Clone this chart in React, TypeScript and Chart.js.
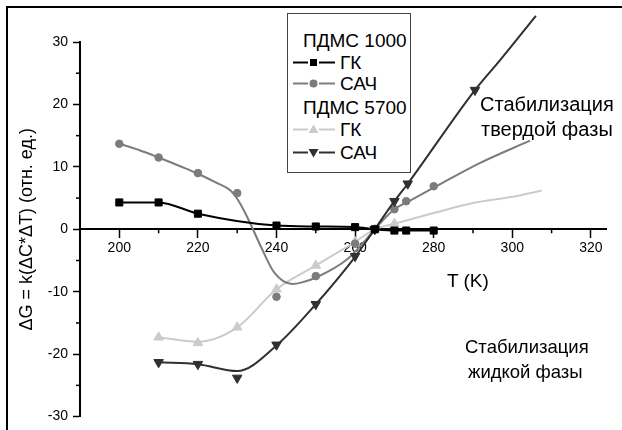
import React, { useEffect, useRef } from "react";
import { Chart, registerables } from "chart.js";

Chart.register(...registerables);

// ---- data ----
// ПДМС 1000, ГК (black squares)
const T_GK1000 = [200, 210, 220, 240, 250, 260, 265, 270, 273, 280];
const V_GK1000 = [4.3, 4.3, 2.5, 0.6, 0.45, 0.35, 0.0, -0.2, -0.2, -0.2];

// ПДМС 1000, САЧ (gray circles) + its smooth fitted curve
const T_SACH1000 = [200, 210, 220, 230, 240, 250, 260, 265, 270, 273, 280];
const V_SACH1000 = [13.7, 11.5, 9.0, 5.8, -10.8, -7.5, -2.3, 0.0, 3.2, 4.5, 6.9];
const T_SACH1000_CURVE = [200, 205, 210, 215.5, 220, 224.9, 228.3, 230.4, 232.6, 236.2, 239.4, 244, 246.5, 250.5, 258, 262, 265, 270, 274, 280.7, 291.7, 304.5];
const V_SACH1000_CURVE = [13.7, 12.7, 11.5, 10.1, 8.9, 7.4, 6.2, 4.5, 1.9, -3.0, -6.9, -8.75, -8.5, -7.6, -4.8, -2.2, 0.0, 3.2, 4.6, 6.9, 10.6, 14.2];

// ПДМС 5700, ГК (light up-triangles)
const T_GK5700 = [210, 220, 230, 240, 250, 260, 265, 270];
const V_GK5700 = [-17.3, -18.2, -15.7, -9.6, -5.8, -2.0, 0.0, 0.9];
const T_GK5700_CURVE = [210, 220, 230, 240, 250, 260, 265, 270, 280, 290, 300, 307.5];
const V_GK5700_CURVE = [-17.3, -18.0, -15.7, -9.6, -5.8, -2.0, 0.0, 0.9, 2.6, 4.2, 5.2, 6.2];

// ПДМС 5700, САЧ (dark down-triangles)
const T_SACH5700 = [210, 220, 230, 240, 250, 260, 265, 270, 273.4, 290.5];
const V_SACH5700 = [-21.3, -21.6, -23.8, -18.5, -12.0, -4.3, 0.0, 4.5, 7.3, 22.3];
const T_SACH5700_CURVE = [210, 220, 230, 240, 250, 260, 265, 270, 273.4, 290.5, 296.9, 306];
const V_SACH5700_CURVE = [-21.3, -21.6, -22.7, -18.6, -12.0, -4.4, 0.0, 4.5, 7.3, 22.3, 27.1, 34.2];

// ---- axes ----
const X_MIN = 190;
const X_MAX = 324;
const X_TICKS = [200, 220, 240, 260, 280, 300, 320];
const X_MINOR = [210, 230, 250, 270, 290, 310];
const Y_MIN = -30;
const Y_MAX = 30;
const Y_TICKS = [-30, -20, -10, 0, 10, 20, 30];
const Y_MINOR = [-25, -15, -5, 5, 15, 25];

const X_TITLE = "T (K)";
const Y_TITLE = "ΔG = k(ΔC*ΔT) (отн. ед.)";
const LEGEND_GROUP_1 = "ПДМС 1000";
const LEGEND_GROUP_2 = "ПДМС 5700";
const LABEL_GK = "ГК";
const LABEL_SACH = "САЧ";
const NOTE_SOLID = ["Стабилизация", "твердой фазы"];
const NOTE_LIQUID = ["Стабилизация", "жидкой фазы"];

const C_GK1000 = "#000000";
const C_SACH1000 = "#7c7c7c";
const C_GK5700 = "#cbcbcb";
const C_SACH5700 = "#303030";

const FONT = "'Liberation Sans', Arial, Helvetica, sans-serif";

const pts = (xs: number[], ys: number[]) => xs.map((x, i) => ({ x, y: ys[i] }));

const minorTicksPlugin = {
  id: "minorTicks",
  afterDraw(chart: any) {
    const { ctx, scales } = chart;
    const xs = scales.x;
    const ys = scales.y;
    const y0 = ys.getPixelForValue(0);
    const left = chart.chartArea.left;
    ctx.save();
    ctx.strokeStyle = "#000";
    ctx.lineWidth = 1.5;
    X_MINOR.forEach((v) => {
      const px = xs.getPixelForValue(v);
      ctx.beginPath();
      ctx.moveTo(px, y0);
      ctx.lineTo(px, y0 + 4);
      ctx.stroke();
    });
    Y_MINOR.forEach((v) => {
      const py = ys.getPixelForValue(v);
      ctx.beginPath();
      ctx.moveTo(left, py);
      ctx.lineTo(left - 4, py);
      ctx.stroke();
    });
    ctx.restore();
  },
};

function Marker({ kind, color }: { kind: string; color: string }) {
  const cx = 21.5;
  const cy = 7.5;
  let shape: any = null;
  if (kind === "square") shape = <rect x={cx - 3.5} y={cy - 3.5} width={7} height={7} fill={color} />;
  if (kind === "circle") shape = <circle cx={cx} cy={cy} r={4} fill={color} />;
  if (kind === "up") shape = <polygon points={`${cx},${cy - 5} ${cx + 5},${cy + 3.5} ${cx - 5},${cy + 3.5}`} fill={color} />;
  if (kind === "down") shape = <polygon points={`${cx - 5},${cy - 3.5} ${cx + 5},${cy - 3.5} ${cx},${cy + 5}`} fill={color} />;
  return (
    <svg width={44} height={15} style={{ display: "block" }}>
      <line x1={1} y1={cy} x2={16} y2={cy} stroke={color} strokeWidth={2} />
      <line x1={27} y1={cy} x2={43} y2={cy} stroke={color} strokeWidth={2} />
      {shape}
    </svg>
  );
}

export default function App() {
  const canvasRef = useRef<HTMLCanvasElement | null>(null);

  useEffect(() => {
    if (!canvasRef.current) return;
    const lineBase = {
      pointRadius: 0,
      borderWidth: 2,
      tension: 0.4,
      cubicInterpolationMode: "monotone" as const,
      fill: false,
      clip: false as any,
    };
    const markBase = {
      showLine: false,
      pointBorderWidth: 1,
      clip: false as any,
    };
    const chart = new Chart(canvasRef.current, {
      type: "line",
      data: {
        datasets: [
          { ...markBase, data: pts(T_GK1000, V_GK1000), pointStyle: "rect", pointRadius: 5, pointBackgroundColor: C_GK1000, pointBorderColor: C_GK1000, borderColor: C_GK1000 },
          { ...lineBase, data: pts(T_GK1000, V_GK1000), borderColor: C_GK1000 },
          { ...markBase, data: pts(T_SACH5700, V_SACH5700), pointStyle: "triangle", pointRotation: 180, pointRadius: 5.5, pointBackgroundColor: C_SACH5700, pointBorderColor: C_SACH5700, borderColor: C_SACH5700 },
          { ...lineBase, data: pts(T_SACH5700_CURVE, V_SACH5700_CURVE), borderColor: C_SACH5700 },
          { ...markBase, data: pts(T_SACH1000, V_SACH1000), pointStyle: "circle", pointRadius: 3.8, pointBackgroundColor: C_SACH1000, pointBorderColor: C_SACH1000, borderColor: C_SACH1000 },
          { ...lineBase, data: pts(T_SACH1000_CURVE, V_SACH1000_CURVE), borderColor: C_SACH1000 },
          { ...markBase, data: pts(T_GK5700, V_GK5700), pointStyle: "triangle", pointRadius: 5.5, pointBackgroundColor: C_GK5700, pointBorderColor: C_GK5700, borderColor: C_GK5700 },
          { ...lineBase, data: pts(T_GK5700_CURVE, V_GK5700_CURVE), borderColor: C_GK5700 },
        ] as any,
      },
      options: {
        animation: false,
        responsive: false,
        maintainAspectRatio: false,
        layout: { padding: { left: 0, top: 42, right: 622 - 80 - (X_MAX - X_MIN) * 3.93, bottom: 11 } },
        plugins: { legend: { display: false }, tooltip: { enabled: false } },
        scales: {
          x: {
            type: "linear",
            position: { y: 0 } as any,
            min: X_MIN,
            max: X_MAX,
            afterBuildTicks: (a: any) => {
              a.ticks = X_TICKS.map((v) => ({ value: v }));
            },
            ticks: { color: "#000", font: { family: FONT, size: 14 }, padding: 2, maxRotation: 0, autoSkip: false },
            grid: { drawOnChartArea: false, drawTicks: true, tickLength: 8, tickWidth: 1.5, tickColor: "#000" },
            border: { display: true, color: "#000", width: 2 },
          },
          y: {
            type: "linear",
            position: "left",
            min: Y_MIN,
            max: Y_MAX,
            afterBuildTicks: (a: any) => {
              a.ticks = Y_TICKS.map((v) => ({ value: v }));
            },
            afterFit: (a: any) => {
              a.width = 80;
            },
            ticks: { color: "#000", font: { family: FONT, size: 14 }, padding: 5, autoSkip: false },
            grid: { drawOnChartArea: false, drawTicks: true, tickLength: 7, tickWidth: 1.5, tickColor: "#000" },
            border: { display: true, color: "#000", width: 2 },
            title: { display: true, text: Y_TITLE, color: "#000", font: { family: FONT, size: 18 }, padding: { top: 16, bottom: 0 } },
          },
        },
      },
      plugins: [minorTicksPlugin],
    });
    return () => chart.destroy();
  }, []);

  const text = (s: string, left: number, cy: number, size: number) => (
    <div
      style={{
        position: "absolute",
        left,
        top: cy - size / 2,
        fontFamily: FONT,
        fontSize: size,
        lineHeight: `${size}px`,
        whiteSpace: "nowrap",
        color: "#000",
      }}
    >
      {s}
    </div>
  );

  const legendRow = (kind: string, color: string, label: string, cy: number) => (
    <div style={{ position: "absolute", left: 292, top: cy - 7.5, height: 15 }}>
      <Marker kind={kind} color={color} />
      <div style={{ position: "absolute", left: 48, top: 7.5 - 9.5, fontFamily: FONT, fontSize: 19, lineHeight: "19px", whiteSpace: "nowrap", color: "#000" }}>{label}</div>
    </div>
  );

  return (
    <div style={{ position: "absolute", left: 0, top: 0, width: 622, height: 430, overflow: "hidden", background: "#fff" }}>
      <canvas ref={canvasRef} width={622} height={430} style={{ position: "absolute", left: 0, top: 0, width: 622, height: 430 }} />
      <div style={{ position: "absolute", left: 6, top: 6, width: 800, height: 600, borderTop: "2px solid #000", borderLeft: "2px solid #000" }} />
      <div style={{ position: "absolute", left: 287, top: 13, width: 122, height: 158, border: "1px solid #444", background: "#fff" }} />
      {text(LEGEND_GROUP_1, 303, 40, 19)}
      {legendRow("square", C_GK1000, LABEL_GK, 62)}
      {legendRow("circle", C_SACH1000, LABEL_SACH, 83)}
      {text(LEGEND_GROUP_2, 303, 107, 19)}
      {legendRow("up", C_GK5700, LABEL_GK, 129)}
      {legendRow("down", C_SACH5700, LABEL_SACH, 152)}
      {text(NOTE_SOLID[0], 480, 104, 20)}
      {text(NOTE_SOLID[1], 481, 129, 20)}
      {text(NOTE_LIQUID[0], 465, 347, 18.5)}
      {text(NOTE_LIQUID[1], 468, 372, 18.5)}
      {text(X_TITLE, 447, 280, 19)}
    </div>
  );
}
